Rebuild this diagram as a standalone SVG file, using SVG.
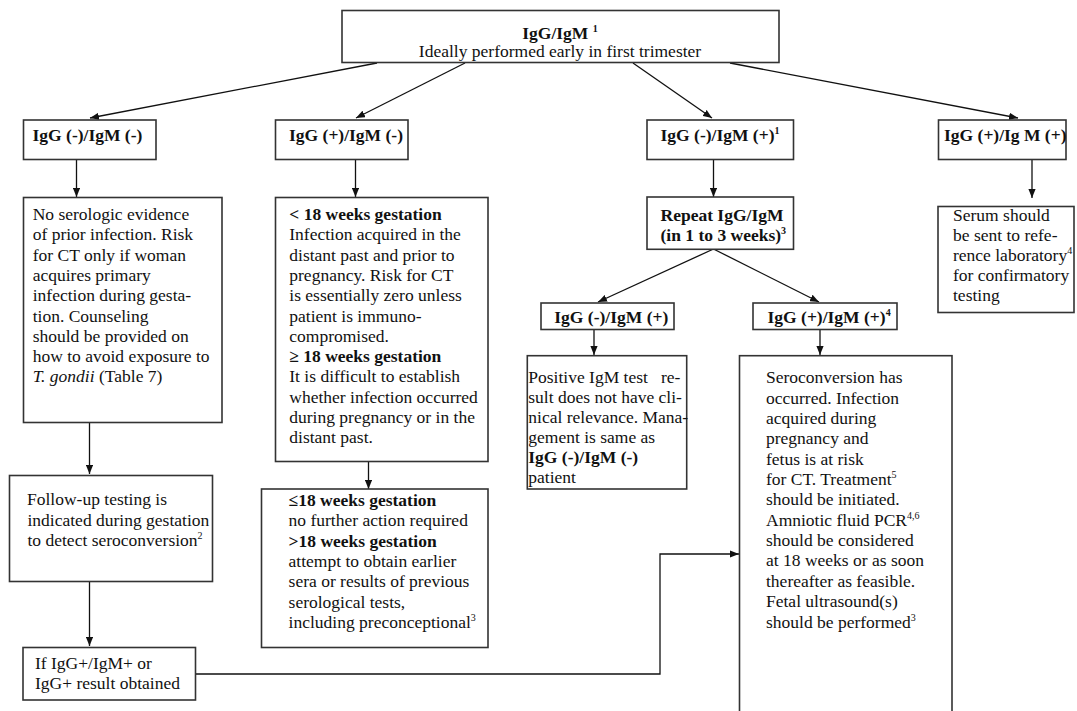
<svg xmlns="http://www.w3.org/2000/svg" width="1077" height="711" viewBox="0 0 1077 711">
<defs>
<style>
.box{fill:#fff;stroke:#333;stroke-width:1.6}
.ln{fill:none;stroke:#111;stroke-width:1.3}
text{font-family:"Liberation Serif","Times New Roman",serif;font-size:17.5px;fill:#111}
.b{font-weight:bold}
.i{font-style:italic}
.sup{font-size:10px}
.c{text-anchor:middle}
</style>
<marker id="ah" viewBox="0 0 10 8" refX="10" refY="4" markerWidth="9" markerHeight="7.5" markerUnits="userSpaceOnUse" orient="auto">
<path d="M0,0 L10,4 L0,8 z" fill="#111"/>
</marker>
</defs>
<rect width="1077" height="711" fill="#fff"/>

<g id="connectors">
<line class="ln" x1="377" y1="63" x2="90" y2="118" marker-end="url(#ah)"/>
<line class="ln" x1="465" y1="63" x2="356" y2="118" marker-end="url(#ah)"/>
<line class="ln" x1="633" y1="63" x2="712" y2="118" marker-end="url(#ah)"/>
<line class="ln" x1="730" y1="63" x2="1018" y2="118" marker-end="url(#ah)"/>
<line class="ln" x1="76.5" y1="159" x2="76.5" y2="197" marker-end="url(#ah)"/>
<line class="ln" x1="355.5" y1="159" x2="355.5" y2="197" marker-end="url(#ah)"/>
<line class="ln" x1="713.5" y1="159" x2="713.5" y2="197" marker-end="url(#ah)"/>
<line class="ln" x1="1032" y1="159" x2="1032" y2="198" marker-end="url(#ah)"/>
<line class="ln" x1="713.5" y1="249" x2="598" y2="302" marker-end="url(#ah)"/>
<line class="ln" x1="713.5" y1="249" x2="819" y2="302" marker-end="url(#ah)"/>
<line class="ln" x1="594" y1="329" x2="594" y2="355" marker-end="url(#ah)"/>
<line class="ln" x1="820" y1="330" x2="820" y2="355" marker-end="url(#ah)"/>
<line class="ln" x1="89.5" y1="422" x2="89.5" y2="474" marker-end="url(#ah)"/>
<line class="ln" x1="89.5" y1="581" x2="89.5" y2="646" marker-end="url(#ah)"/>
<line class="ln" x1="368.5" y1="462" x2="368.5" y2="489" marker-end="url(#ah)"/>
<polyline class="ln" points="195.5,674 660,674 660,554 739,554" marker-end="url(#ah)"/>
</g>

<g id="top">
<rect class="box" x="342" y="10.5" width="437" height="52"/>
<text class="c b" x="560" y="38.5">IgG/IgM <tspan class="sup" dy="-7">1</tspan></text>
<text class="c" x="560" y="57">Ideally performed early in first trimester</text>
</g>

<g id="hA">
<rect class="box" x="23.5" y="120" width="132.5" height="39.5"/>
<text class="b" x="32.5" y="141">IgG (-)/IgM (-)</text>
</g>
<g id="hB">
<rect class="box" x="275.5" y="120" width="132.5" height="39.5"/>
<text class="b" x="289" y="141">IgG (+)/IgM (-)</text>
</g>
<g id="hC">
<rect class="box" x="647" y="120" width="146.5" height="39.5"/>
<text class="b" x="660.5" y="141">IgG (-)/IgM (+)<tspan class="sup" dy="-7">1</tspan></text>
</g>
<g id="hD">
<rect class="box" x="938.5" y="120" width="127.5" height="39.5"/>
<text class="b" x="944" y="141">IgG (+)/Ig M (+)</text>
</g>

<g id="noSero">
<rect class="box" x="23.5" y="197.5" width="198.5" height="225"/>
<text x="32.7" y="220">No serologic evidence</text>
<text x="32.7" y="240.3">of prior infection. Risk</text>
<text x="32.7" y="260.6">for CT only if woman</text>
<text x="32.7" y="280.9">acquires primary</text>
<text x="32.7" y="301.2">infection during gesta-</text>
<text x="32.7" y="321.5">tion. Counseling</text>
<text x="32.7" y="341.8">should be provided on</text>
<text x="32.7" y="362.1">how to avoid exposure to</text>
<text x="32.7" y="382.4"><tspan class="i">T. gondii</tspan> (Table 7)</text>
</g>

<g id="lt18">
<rect class="box" x="275.5" y="197.5" width="212.5" height="264"/>
<text class="b" x="289.3" y="220">&lt; 18 weeks gestation</text>
<text x="289.3" y="240.3">Infection acquired in the</text>
<text x="289.3" y="260.6">distant past and prior to</text>
<text x="289.3" y="280.9">pregnancy. Risk for CT</text>
<text x="289.3" y="301.2">is essentially zero unless</text>
<text x="289.3" y="321.5">patient is immuno-</text>
<text x="289.3" y="341.8">compromised.</text>
<text class="b" x="289.3" y="362.1">≥ 18 weeks gestation</text>
<text x="289.3" y="382.4">It is difficult to establish</text>
<text x="289.3" y="402.7">whether infection occurred</text>
<text x="289.3" y="423">during pregnancy or in the</text>
<text x="289.3" y="443.3">distant past.</text>
</g>

<g id="followup">
<rect class="box" x="9.5" y="475.5" width="203" height="106"/>
<text x="27" y="505">Follow-up testing is</text>
<text x="27.5" y="525.5">indicated during gestation</text>
<text x="27.5" y="546">to detect seroconversion<tspan class="sup" dy="-7">2</tspan></text>
</g>

<g id="ifbox">
<rect class="box" x="23" y="647.5" width="172.5" height="52.5"/>
<text x="35" y="669.3">If IgG+/IgM+ or</text>
<text x="35" y="689.3">IgG+ result obtained</text>
</g>

<g id="le18">
<rect class="box" x="261.5" y="489" width="226.5" height="158.5"/>
<text class="b" x="288.6" y="506">≤18 weeks gestation</text>
<text x="288.6" y="526.3">no further action required</text>
<text class="b" x="288.6" y="546.6">&gt;18 weeks gestation</text>
<text x="288.6" y="566.9">attempt to obtain earlier</text>
<text x="288.6" y="587.2">sera or results of previous</text>
<text x="288.6" y="607.5">serological tests,</text>
<text x="288.6" y="627.8">including preconceptional<tspan class="sup" dy="-7">3</tspan></text>
</g>

<g id="repeat">
<rect class="box" x="647" y="197" width="146.5" height="52.3"/>
<text class="b" x="660.5" y="221">Repeat IgG/IgM</text>
<text class="b" x="660.5" y="241">(in 1 to 3 weeks)<tspan class="sup" dy="-7">3</tspan></text>
</g>

<g id="serum">
<rect class="box" x="938" y="206.5" width="136" height="106"/>
<text x="953" y="221">Serum should</text>
<text x="953" y="241">be sent to refe-</text>
<text x="953" y="261">rence laboratory<tspan class="sup" dy="-7">4</tspan></text>
<text x="953" y="281">for confirmatory</text>
<text x="953" y="301">testing</text>
</g>

<g id="sC1">
<rect class="box" x="541" y="303" width="133" height="26.5"/>
<text class="b" x="554.3" y="323">IgG (-)/IgM (+)</text>
</g>
<g id="sC2">
<rect class="box" x="753" y="303" width="144" height="26.5"/>
<text class="b" x="767.5" y="323">IgG (+)/IgM (+)<tspan class="sup" dy="-7">4</tspan></text>
</g>

<g id="positive">
<rect class="box" x="527.3" y="355.7" width="159.4" height="133.3"/>
<text x="528.3" y="382.7" xml:space="preserve">Positive IgM test   re-</text>
<text x="528.3" y="402.8">sult does not have cli-</text>
<text x="528.3" y="422.9">nical relevance. Mana-</text>
<text x="528.3" y="443">gement is same as</text>
<text class="b" x="528.3" y="463.1">IgG (-)/IgM (-)</text>
<text x="528.3" y="483.2">patient</text>
</g>

<g id="sero">
<rect class="box" x="739.5" y="355.7" width="212.5" height="360"/>
<text x="766" y="383.3">Seroconversion has</text>
<text x="766" y="403.6">occurred. Infection</text>
<text x="766" y="424">acquired during</text>
<text x="766" y="444.3">pregnancy and</text>
<text x="766" y="464.7">fetus is at risk</text>
<text x="766" y="485">for CT. Treatment<tspan class="sup" dy="-7">5</tspan></text>
<text x="766" y="505.4">should be initiated.</text>
<text x="766" y="525.7">Amniotic fluid PCR<tspan class="sup" dy="-7">4,6</tspan></text>
<text x="766" y="546.1">should be considered</text>
<text x="766" y="566.4">at 18 weeks or as soon</text>
<text x="766" y="586.8">thereafter as feasible.</text>
<text x="766" y="607.1">Fetal ultrasound(s)</text>
<text x="766" y="627.5">should be performed<tspan class="sup" dy="-7">3</tspan></text>
</g>
</svg>
